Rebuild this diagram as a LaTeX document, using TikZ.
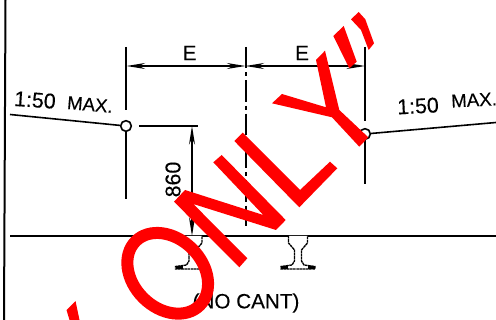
\documentclass[tikz,border=0pt]{standalone}
\usepackage{fontspec}
\setmainfont{Liberation Sans}[FakeBold=0.2]
\usetikzlibrary{arrows.meta}
\newcommand{\inkfont}[1]{\fontsize{#1}{#1}\selectfont}
\tikzset{
  ink/.style={draw=black,line width=1.2pt},
  thin ink/.style={draw=black,line width=0.8pt},
  dim/.style={draw=black,line width=1.1pt,{Stealth[length=14pt,width=4.5pt]}-{Stealth[length=14pt,width=4.5pt]}},
  joint/.style={circle,draw=black,line width=1.2pt,fill=white,minimum size=8pt,inner sep=0pt},
  label/.style={inner sep=0pt,text=black},
  stamp/.style={fill=red,draw=none},
  pics/railsection/.style={code={
    \draw[draw=black,line width=1pt,fill=white,dash pattern=on 2pt off 0.4pt] (-9.5,0) -- (-9.5,7) -- (-6,11) -- (-3.5,14) -- (-3.5,25) -- (-6,29) -- (-17,30.5) -- (-17,33) -- (17,33) -- (17,30.5) -- (6,29) -- (3.5,25) -- (3.5,14) -- (6,11) -- (9.5,7) -- (9.5,0);
    \fill[black] (-17,30.5) rectangle (-10,33);
    \fill[black] (10,30.5) rectangle (17,33);
  }}
}
\begin{document}
\begin{tikzpicture}[x=0.75pt,y=-0.75pt]
\useasboundingbox (0,0) rectangle (496,320);
\fill[white] (0,0) rectangle (496,320);
% frame and ground line
\coordinate (bt) at (5.5,0); \coordinate (bb) at (4,320);
\draw[ink,line width=1.5pt] (bt) -- (bb);
\coordinate (gl) at (10,236); \coordinate (gr) at (496,236);
\draw[ink,line width=1.4pt] (gl) -- (gr);
% rails
\pic at (192.5,236) {railsection};
\pic at (298,236) {railsection};
% gradient lines and joints
\node[joint] (jl) at (126,126) {};
\node[joint] (jr) at (365,134) {};
\coordinate (sl) at (10,114.5); \coordinate (sr) at (496,122.5);
\draw[ink] (sl) -- (jl);
\draw[ink] (jr) -- (sr);
% extension lines
\coordinate (a1) at (126,47); \coordinate (a2) at (126,110); \coordinate (a3) at (126,199);
\draw[ink] (a1) -- (a2);
\draw[ink] (jl) -- (a3);
\coordinate (b1) at (365,47); \coordinate (b2) at (365,121); \coordinate (b3) at (365,184);
\draw[ink] (b1) -- (b2);
\draw[ink] (jr) -- (b3);
\coordinate (c1) at (245.5,47); \coordinate (c2) at (245.5,226);
\draw[ink,line width=1.5pt,dash pattern=on 16pt off 3pt on 3pt off 3pt] (c1) -- (c2);
% dimensions
\coordinate (d1) at (126.5,66); \coordinate (d2) at (245.5,66); \coordinate (d3) at (365,66);
\draw[dim] (d1) -- (d2);
\draw[dim] (d2) -- (d3);
\coordinate (h1) at (139,126); \coordinate (h2) at (198,126);
\draw[thin ink] (h1) -- (h2);
\coordinate (v1) at (192,126); \coordinate (v2) at (192,236);
\draw[dim] (v1) -- (v2);
% labels
\node[label,font=\inkfont{15.5}] (e1) at (189.5,53) {E};
\node[label,font=\inkfont{15.5}] (e2) at (302,53) {E};
\node[label,font=\inkfont{16}] (h) [rotate=90] at (173,179.5) {860};
\node[label,font=\inkfont{16},rotate=-4] (t1) at (35,100) {1:50};
\node[label,font=\inkfont{14},rotate=-5] (t2) at (90,104.5) {MAX.};
\node[label,font=\inkfont{16},rotate=3] (t3) at (418,106) {1:50};
\node[label,font=\inkfont{14},rotate=3] (t4) at (474,100) {MAX.};
\node[label,font=\inkfont{15.5}] (t5) at (246,303) {(NO CANT)};
% red stamp
\fill[stamp] (66.5,310) -- (75.5,301) -- (79.5,320) -- (69.5,320) -- cycle;
\begin{scope}[shift={(167.7,273.3)},rotate=-45]
\draw[red,line width=9pt] (0,0) ellipse [x radius=34pt,y radius=26pt];
\end{scope}
\fill[stamp] (174,201.7) -- (185,190) -- (263.3,215) -- (213.3,162.3) -- (221.7,155) -- (285.7,220) -- (276,230) -- (193.3,204) -- (247.3,258.3) -- (239.3,267.3) -- cycle;
\fill[stamp] (234.3,141) -- (242.7,132.7) -- (300,190) -- (330,161.7) -- (337.3,168.3) -- (299.3,207.3) -- cycle;
\fill[stamp] (272,103.3) -- (282,94) -- (326,107.3) -- (316,60) -- (325,50.7) -- (339.3,110) -- (368.3,137.3) -- (359.3,146.7) -- (332,117.3) -- cycle;
\fill[stamp] (333.3,36) -- (343.7,26) -- (356.7,61.7) -- (349.3,68.3) -- cycle;
\fill[stamp] (351,19.3) -- (358.7,12) -- (365.3,19.3) -- (374,43.3) -- (368.7,50) -- (361,30) -- cycle;
\end{tikzpicture}
\end{document}
